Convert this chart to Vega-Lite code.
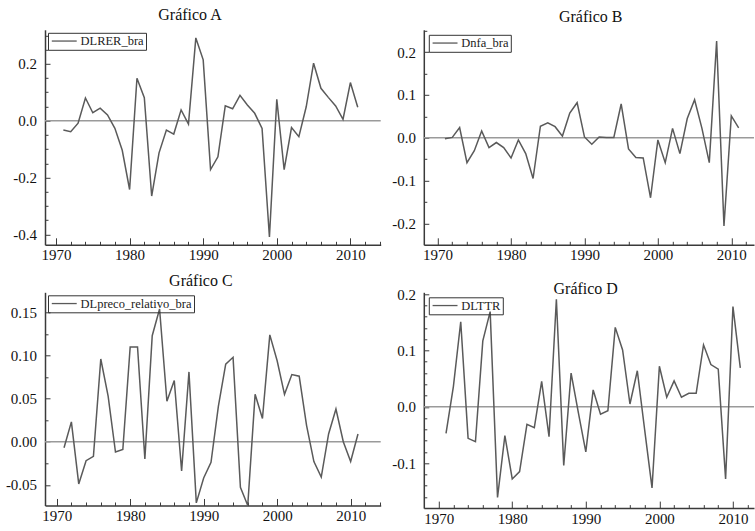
{
  "$schema": "https://vega.github.io/schema/vega-lite/v6.json",
  "background": "white",
  "padding": {"left": 5, "top": 6.8, "right": 0, "bottom": 0},
  "datasets": {
    "a": [
      {"year": 1971, "v": -0.033}, {"year": 1972, "v": -0.039}, {"year": 1973, "v": -0.009}, {"year": 1974, "v": 0.080},
      {"year": 1975, "v": 0.028}, {"year": 1976, "v": 0.044}, {"year": 1977, "v": 0.020}, {"year": 1978, "v": -0.027},
      {"year": 1979, "v": -0.104}, {"year": 1980, "v": -0.242}, {"year": 1981, "v": 0.149}, {"year": 1982, "v": 0.081},
      {"year": 1983, "v": -0.265}, {"year": 1984, "v": -0.113}, {"year": 1985, "v": -0.033}, {"year": 1986, "v": -0.047},
      {"year": 1987, "v": 0.038}, {"year": 1988, "v": -0.012}, {"year": 1989, "v": 0.291}, {"year": 1990, "v": 0.214},
      {"year": 1991, "v": -0.172}, {"year": 1992, "v": -0.127}, {"year": 1993, "v": 0.052}, {"year": 1994, "v": 0.042},
      {"year": 1995, "v": 0.089}, {"year": 1996, "v": 0.055}, {"year": 1997, "v": 0.026}, {"year": 1998, "v": -0.027},
      {"year": 1999, "v": -0.409}, {"year": 2000, "v": 0.075}, {"year": 2001, "v": -0.172}, {"year": 2002, "v": -0.024},
      {"year": 2003, "v": -0.056}, {"year": 2004, "v": 0.049}, {"year": 2005, "v": 0.202}, {"year": 2006, "v": 0.114},
      {"year": 2007, "v": 0.082}, {"year": 2008, "v": 0.052}, {"year": 2009, "v": 0.005}, {"year": 2010, "v": 0.134},
      {"year": 2011, "v": 0.047}
    ],
    "b": [
      {"year": 1971, "v": -0.002}, {"year": 1972, "v": 0.001}, {"year": 1973, "v": 0.024}, {"year": 1974, "v": -0.058},
      {"year": 1975, "v": -0.030}, {"year": 1976, "v": 0.016}, {"year": 1977, "v": -0.023}, {"year": 1978, "v": -0.011},
      {"year": 1979, "v": -0.023}, {"year": 1980, "v": -0.047}, {"year": 1981, "v": -0.005}, {"year": 1982, "v": -0.037},
      {"year": 1983, "v": -0.095}, {"year": 1984, "v": 0.027}, {"year": 1985, "v": 0.035}, {"year": 1986, "v": 0.026},
      {"year": 1987, "v": 0.004}, {"year": 1988, "v": 0.058}, {"year": 1989, "v": 0.082}, {"year": 1990, "v": 0.002},
      {"year": 1991, "v": -0.015}, {"year": 1992, "v": 0.002}, {"year": 1993, "v": 0.001}, {"year": 1994, "v": 0.001},
      {"year": 1995, "v": 0.079}, {"year": 1996, "v": -0.026}, {"year": 1997, "v": -0.046}, {"year": 1998, "v": -0.047},
      {"year": 1999, "v": -0.140}, {"year": 2000, "v": -0.005}, {"year": 2001, "v": -0.058}, {"year": 2002, "v": 0.022},
      {"year": 2003, "v": -0.037}, {"year": 2004, "v": 0.045}, {"year": 2005, "v": 0.089}, {"year": 2006, "v": 0.022},
      {"year": 2007, "v": -0.058}, {"year": 2008, "v": 0.226}, {"year": 2009, "v": -0.206}, {"year": 2010, "v": 0.051},
      {"year": 2011, "v": 0.023}
    ],
    "c": [
      {"year": 1971, "v": -0.007}, {"year": 1972, "v": 0.023}, {"year": 1973, "v": -0.049}, {"year": 1974, "v": -0.022},
      {"year": 1975, "v": -0.017}, {"year": 1976, "v": 0.096}, {"year": 1977, "v": 0.053}, {"year": 1978, "v": -0.012},
      {"year": 1979, "v": -0.009}, {"year": 1980, "v": 0.110}, {"year": 1981, "v": 0.110}, {"year": 1982, "v": -0.020},
      {"year": 1983, "v": 0.123}, {"year": 1984, "v": 0.154}, {"year": 1985, "v": 0.047}, {"year": 1986, "v": 0.071},
      {"year": 1987, "v": -0.034}, {"year": 1988, "v": 0.081}, {"year": 1989, "v": -0.071}, {"year": 1990, "v": -0.042},
      {"year": 1991, "v": -0.024}, {"year": 1992, "v": 0.041}, {"year": 1993, "v": 0.090}, {"year": 1994, "v": 0.098},
      {"year": 1995, "v": -0.053}, {"year": 1996, "v": -0.074}, {"year": 1997, "v": 0.055}, {"year": 1998, "v": 0.027},
      {"year": 1999, "v": 0.124}, {"year": 2000, "v": 0.094}, {"year": 2001, "v": 0.055}, {"year": 2002, "v": 0.078},
      {"year": 2003, "v": 0.076}, {"year": 2004, "v": 0.019}, {"year": 2005, "v": -0.023}, {"year": 2006, "v": -0.041},
      {"year": 2007, "v": 0.009}, {"year": 2008, "v": 0.038}, {"year": 2009, "v": 0.000}, {"year": 2010, "v": -0.023},
      {"year": 2011, "v": 0.009}
    ],
    "d": [
      {"year": 1971, "v": -0.047}, {"year": 1972, "v": 0.036}, {"year": 1973, "v": 0.151}, {"year": 1974, "v": -0.056},
      {"year": 1975, "v": -0.062}, {"year": 1976, "v": 0.117}, {"year": 1977, "v": 0.169}, {"year": 1978, "v": -0.161},
      {"year": 1979, "v": -0.051}, {"year": 1980, "v": -0.128}, {"year": 1981, "v": -0.115}, {"year": 1982, "v": -0.031},
      {"year": 1983, "v": -0.037}, {"year": 1984, "v": 0.045}, {"year": 1985, "v": -0.053}, {"year": 1986, "v": 0.191},
      {"year": 1987, "v": -0.104}, {"year": 1988, "v": 0.060}, {"year": 1989, "v": -0.011}, {"year": 1990, "v": -0.080},
      {"year": 1991, "v": 0.030}, {"year": 1992, "v": -0.013}, {"year": 1993, "v": -0.007}, {"year": 1994, "v": 0.141},
      {"year": 1995, "v": 0.101}, {"year": 1996, "v": 0.005}, {"year": 1997, "v": 0.064}, {"year": 1998, "v": -0.041},
      {"year": 1999, "v": -0.144}, {"year": 2000, "v": 0.072}, {"year": 2001, "v": 0.017}, {"year": 2002, "v": 0.046},
      {"year": 2003, "v": 0.017}, {"year": 2004, "v": 0.024}, {"year": 2005, "v": 0.024}, {"year": 2006, "v": 0.110},
      {"year": 2007, "v": 0.075}, {"year": 2008, "v": 0.067}, {"year": 2009, "v": -0.128}, {"year": 2010, "v": 0.178},
      {"year": 2011, "v": 0.069}
    ],
    "zero": [{"ref": 0}]
  },
  "bounds": "flush",
  "columns": 2,
  "spacing": {"row": 47.5, "column": 42.8},
  "resolve": {"scale": {"color": "independent", "x": "independent", "y": "independent"}, "legend": {"color": "independent"}},
  "concat": [
    {
      "width": 335.7, "height": 215,
      "title": {"text": "Gráfico A", "dx": -22.85, "offset": 6.8},
      "layer": [
        {"data": {"name": "zero"}, "mark": {"type": "rule", "color": "#9a9a9a", "strokeWidth": 1.5},
         "encoding": {"y": {"field": "ref", "type": "quantitative", "scale": {"domain": [-0.4364, 0.3196], "nice": false, "zero": false}, "axis": null}}},
        {"data": {"name": "a"}, "mark": {"type": "line", "strokeWidth": 1.5},
         "encoding": {
           "x": {"field": "year", "type": "quantitative", "scale": {"domain": [1968.505, 2014.12], "nice": false, "zero": false},
                 "axis": {"orient": "bottom", "values": [1970, 1980, 1990, 2000, 2010], "format": "d", "tickSize": -7, "labelPadding": 10, "labelFont": "Liberation Serif", "labelFontSize": 15}},
           "y": {"field": "v", "type": "quantitative", "scale": {"domain": [-0.4364, 0.3196], "nice": false, "zero": false},
                 "axis": {"orient": "left", "values": [-0.4, -0.2, 0, 0.2], "format": ".1f", "tickSize": -5, "labelPadding": 13.4, "labelFont": "Liberation Serif", "labelFontSize": 15, "labelExpr": "replace(datum.label, '−', '-')"}},
           "color": {"datum": "DLRER_bra", "type": "nominal", "scale": {"range": ["#5a5a5a"]}, "legend": {"orient": "top-left", "offset": 3}}
         }},
        {"data": {"name": "a"}, "mark": {"type": "line", "opacity": 0},
         "encoding": {
           "x": {"field": "year", "type": "quantitative", "scale": {"domain": [1968.505, 2014.12], "nice": false, "zero": false},
                 "axis": {"orient": "bottom", "values": [1972, 1974, 1976, 1978, 1982, 1984, 1986, 1988, 1992, 1994, 1996, 1998, 2002, 2004, 2006, 2008, 2012, 2014], "tickSize": -3.5, "labels": false, "domain": false}},
           "y": {"field": "v", "type": "quantitative", "scale": {"domain": [-0.4364, 0.3196], "nice": false, "zero": false},
                 "axis": {"orient": "left", "values": [-0.35, -0.3, -0.25, -0.15, -0.1, -0.05, 0.05, 0.1, 0.15, 0.25, 0.3], "tickSize": -3, "labels": false, "domain": false}}
         }}
      ],
      "resolve": {"axis": {"x": "independent", "y": "independent"}}
    },
    {
      "width": 330.2, "height": 215,
      "title": {"text": "Gráfico B", "dx": 1.8, "offset": 4.7},
      "layer": [
        {"data": {"name": "zero"}, "mark": {"type": "rule", "color": "#9a9a9a", "strokeWidth": 1.5},
         "encoding": {"y": {"field": "ref", "type": "quantitative", "scale": {"domain": [-0.2498, 0.2522], "nice": false, "zero": false}, "axis": null}}},
        {"data": {"name": "b"}, "mark": {"type": "line", "strokeWidth": 1.5},
         "encoding": {
           "x": {"field": "year", "type": "quantitative", "scale": {"domain": [1968.12, 2013.09], "nice": false, "zero": false},
                 "axis": {"orient": "bottom", "values": [1970, 1980, 1990, 2000, 2010], "format": "d", "tickSize": -7, "labelPadding": 10, "labelFont": "Liberation Serif", "labelFontSize": 15}},
           "y": {"field": "v", "type": "quantitative", "scale": {"domain": [-0.2498, 0.2522], "nice": false, "zero": false},
                 "axis": {"orient": "left", "values": [-0.2, -0.1, 0, 0.1, 0.2], "format": ".1f", "tickSize": -5, "labelPadding": 13.4, "labelFont": "Liberation Serif", "labelFontSize": 15, "labelExpr": "replace(datum.label, '−', '-')"}},
           "color": {"datum": "Dnfa_bra", "type": "nominal", "scale": {"range": ["#5a5a5a"]}, "legend": {"orient": "top-left", "offset": 4.5}}
         }},
        {"data": {"name": "b"}, "mark": {"type": "line", "opacity": 0},
         "encoding": {
           "x": {"field": "year", "type": "quantitative", "scale": {"domain": [1968.12, 2013.09], "nice": false, "zero": false},
                 "axis": {"orient": "bottom", "values": [1972, 1974, 1976, 1978, 1982, 1984, 1986, 1988, 1992, 1994, 1996, 1998, 2002, 2004, 2006, 2008, 2012], "tickSize": -3.5, "labels": false, "domain": false}},
           "y": {"field": "v", "type": "quantitative", "scale": {"domain": [-0.2498, 0.2522], "nice": false, "zero": false},
                 "axis": {"orient": "left", "values": [-0.15, -0.05, 0.05, 0.15, 0.25], "tickSize": -3, "labels": false, "domain": false}}
         }}
      ],
      "resolve": {"axis": {"x": "independent", "y": "independent"}}
    },
    {
      "width": 335.7, "height": 213.2,
      "title": {"text": "Gráfico C", "dx": -12, "offset": 3.3},
      "layer": [
        {"data": {"name": "zero"}, "mark": {"type": "rule", "color": "#9a9a9a", "strokeWidth": 1.5},
         "encoding": {"y": {"field": "ref", "type": "quantitative", "scale": {"domain": [-0.074, 0.1734], "nice": false, "zero": false}, "axis": null}}},
        {"data": {"name": "c"}, "mark": {"type": "line", "strokeWidth": 1.5},
         "encoding": {
           "x": {"field": "year", "type": "quantitative", "scale": {"domain": [1968.41, 2014.09], "nice": false, "zero": false},
                 "axis": {"orient": "bottom", "values": [1970, 1980, 1990, 2000, 2010], "format": "d", "tickSize": -7, "labelPadding": 10, "labelFont": "Liberation Serif", "labelFontSize": 15}},
           "y": {"field": "v", "type": "quantitative", "scale": {"domain": [-0.074, 0.1734], "nice": false, "zero": false},
                 "axis": {"orient": "left", "values": [-0.05, 0, 0.05, 0.1, 0.15], "format": ".2f", "tickSize": -5, "labelPadding": 13.4, "labelFont": "Liberation Serif", "labelFontSize": 15, "labelExpr": "replace(datum.label, '−', '-')"}},
           "color": {"datum": "DLpreco_relativo_bra", "type": "nominal", "scale": {"range": ["#5a5a5a"]}, "legend": {"orient": "top-left", "offset": 3}}
         }},
        {"data": {"name": "c"}, "mark": {"type": "line", "opacity": 0},
         "encoding": {
           "x": {"field": "year", "type": "quantitative", "scale": {"domain": [1968.41, 2014.09], "nice": false, "zero": false},
                 "axis": {"orient": "bottom", "values": [1972, 1974, 1976, 1978, 1982, 1984, 1986, 1988, 1992, 1994, 1996, 1998, 2002, 2004, 2006, 2008, 2012, 2014], "tickSize": -3.5, "labels": false, "domain": false}},
           "y": {"field": "v", "type": "quantitative", "scale": {"domain": [-0.074, 0.1734], "nice": false, "zero": false},
                 "axis": {"orient": "left", "values": [-0.025, 0.025, 0.075, 0.125], "tickSize": -3, "labels": false, "domain": false}}
         }}
      ],
      "resolve": {"axis": {"x": "independent", "y": "independent"}}
    },
    {
      "width": 330.2, "height": 215.8,
      "title": {"text": "Gráfico D", "dx": -3.2, "offset": -9.8},
      "layer": [
        {"data": {"name": "zero"}, "mark": {"type": "rule", "color": "#9a9a9a", "strokeWidth": 1.5},
         "encoding": {"y": {"field": "ref", "type": "quantitative", "scale": {"domain": [-0.1798, 0.2033], "nice": false, "zero": false}, "axis": null}}},
        {"data": {"name": "d"}, "mark": {"type": "line", "strokeWidth": 1.5},
         "encoding": {
           "x": {"field": "year", "type": "quantitative", "scale": {"domain": [1967.98, 2012.86], "nice": false, "zero": false},
                 "axis": {"orient": "bottom", "values": [1970, 1980, 1990, 2000, 2010], "format": "d", "tickSize": -7, "labelPadding": 10, "labelFont": "Liberation Serif", "labelFontSize": 15}},
           "y": {"field": "v", "type": "quantitative", "scale": {"domain": [-0.1798, 0.2033], "nice": false, "zero": false},
                 "axis": {"orient": "left", "values": [-0.1, 0, 0.1, 0.2], "format": ".1f", "tickSize": -5, "labelPadding": 13.4, "labelFont": "Liberation Serif", "labelFontSize": 15, "labelExpr": "replace(datum.label, '−', '-')"}},
           "color": {"datum": "DLTTR", "type": "nominal", "scale": {"range": ["#5a5a5a"]}, "legend": {"orient": "top-left", "offset": 5}}
         }},
        {"data": {"name": "d"}, "mark": {"type": "line", "opacity": 0},
         "encoding": {
           "x": {"field": "year", "type": "quantitative", "scale": {"domain": [1967.98, 2012.86], "nice": false, "zero": false},
                 "axis": {"orient": "bottom", "values": [1972, 1974, 1976, 1978, 1982, 1984, 1986, 1988, 1992, 1994, 1996, 1998, 2002, 2004, 2006, 2008, 2012], "tickSize": -3.5, "labels": false, "domain": false}},
           "y": {"field": "v", "type": "quantitative", "scale": {"domain": [-0.1798, 0.2033], "nice": false, "zero": false},
                 "axis": {"orient": "left", "values": [-0.16, -0.14, -0.12, -0.08, -0.06, -0.04, -0.02, 0.02, 0.04, 0.06, 0.08, 0.12, 0.14, 0.16, 0.18], "tickSize": -3, "labels": false, "domain": false}}
         }}
      ],
      "resolve": {"axis": {"x": "independent", "y": "independent"}}
    }
  ],
  "config": {
    "font": "Liberation Serif",
    "view": {"stroke": null},
    "axis": {"grid": false, "title": null, "domainColor": "#3a3a3a", "domainWidth": 1.5, "tickColor": "#3a3a3a", "tickWidth": 1, "labelFont": "Liberation Serif", "labelFontSize": 15, "labelColor": "#111111", "labelFlush": false, "labelOverlap": false},
    "title": {"font": "Liberation Serif", "fontSize": 16, "fontWeight": "normal", "color": "#111111", "frame": "group", "anchor": "middle", "baseline": "alphabetic"},
    "legend": {"title": null, "strokeColor": "#333333", "padding": 2, "labelFont": "Liberation Serif", "labelFontSize": 12.5, "labelColor": "#222222", "symbolType": "M-3,0H3", "symbolSize": 69, "symbolStrokeWidth": 1.3, "symbolOffset": 8, "labelOffset": 10}
  }
}
